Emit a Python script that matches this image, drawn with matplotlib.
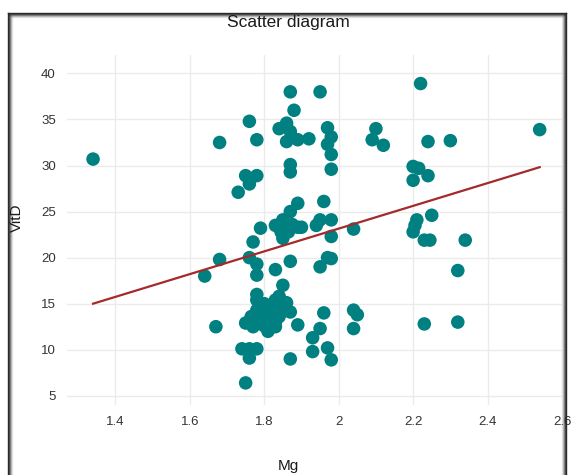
import matplotlib.pyplot as plt
import numpy as np

# Mg vs VitD
mg = [1.34, 1.76, 1.68, 1.78, 1.75, 1.76, 1.78, 1.73, 1.68, 1.64,
      1.67, 1.75, 1.76, 1.74, 1.78, 1.76, 1.75, 1.78, 1.77, 1.76,
      1.78, 1.78, 1.87, 1.95, 1.88, 1.84, 1.86, 1.87, 1.86, 1.89,
      1.92, 1.97, 1.98, 1.97, 1.98, 1.98, 1.87, 1.87, 2.10, 2.09,
      2.12, 2.22, 2.24, 2.30, 2.20, 2.215, 2.20, 2.24, 2.25, 2.21,
      2.205, 2.20, 2.23, 2.245, 2.34, 2.32, 2.23, 2.32, 2.54, 2.04,
      2.04, 2.05, 2.04, 1.98, 1.98, 1.98, 1.96, 1.89, 1.96, 1.87,
      1.83, 1.85, 1.845, 1.86, 1.875, 1.89, 1.90, 1.85, 1.865, 1.79,
      1.94, 1.95, 1.83, 1.87, 1.97, 1.95, 1.85, 1.78, 1.80, 1.78,
      1.765, 1.77, 1.79, 1.81, 1.81, 1.83, 1.84, 1.845, 1.855, 1.87,
      1.83, 1.83, 1.81, 1.89, 1.95, 1.93, 1.93, 1.97, 1.98, 1.87,
      1.80, 1.82, 1.86, 1.84]
vitd = [30.7, 34.8, 32.5, 32.8, 28.9, 28.0, 28.9, 27.1, 19.8, 18.0,
        12.5, 6.4, 10.1, 10.1, 10.1, 9.1, 12.9, 15.4, 21.7, 20.0,
        19.3, 18.1, 38.0, 38.0, 36.0, 34.0, 34.6, 33.7, 32.6, 32.8,
        32.9, 34.1, 33.1, 32.3, 31.2, 29.6, 30.1, 29.3, 34.0, 32.8,
        32.2, 38.9, 32.6, 32.7, 29.9, 29.7, 28.4, 28.9, 24.6, 24.1,
        23.5, 22.8, 21.9, 21.9, 21.9, 18.6, 12.8, 13.0, 33.9, 23.1,
        14.3, 13.8, 12.3, 24.1, 22.3, 19.9, 14.0, 25.9, 26.1, 25.0,
        23.5, 24.1, 22.8, 23.4, 23.6, 23.3, 23.3, 22.1, 22.8, 23.2,
        23.5, 24.1, 18.7, 19.6, 20.0, 19.0, 17.0, 16.0, 15.0, 14.3,
        13.6, 12.5, 13.4, 14.1, 13.4, 15.4, 15.8, 14.7, 14.3, 14.1,
        13.0, 12.5, 12.0, 12.7, 12.3, 11.3, 9.8, 10.2, 8.9, 9.0,
        12.6, 14.8, 15.1, 13.6]

# fitted line
fit_slope = 12.35
fit_intercept = -1.55

xticks = [1.4, 1.6, 1.8, 2.0, 2.2, 2.4, 2.6]
xtick_labels = ['1.4', '1.6', '1.8', '2', '2.2', '2.4', '2.6']
yticks = [5, 10, 15, 20, 25, 30, 35, 40]

plt.rcParams['font.family'] = ['Liberation Sans', 'DejaVu Sans']

fig = plt.figure(figsize=(5.72, 4.75), dpi=100)
ax = fig.add_axes([67 / 572, 70 / 475, (562 - 67) / 572, (405 - 55) / 475])

ax.scatter(mg, vitd, s=95, color='#008080', edgecolors='none', zorder=3)

xs = np.array([min(mg), max(mg)])
ax.plot(xs, fit_intercept + fit_slope * xs, color='#a52a2a', linewidth=1.6, zorder=4)

ax.set_xlim(1.27, 2.6)
ax.set_ylim(4, 42)
ax.set_xticks(xticks)
ax.set_xticklabels(xtick_labels)
ax.set_yticks(yticks)
ax.grid(True, color='#ebebeb', linewidth=1)
ax.set_axisbelow(True)
for s in ax.spines.values():
    s.set_visible(False)
ax.tick_params(length=0, labelsize=9.5, labelcolor='#333333', pad=8)

fig.text(288 / 572, 1 - 22 / 475, 'Scatter diagram', ha='center', va='center',
         fontsize=12.5, color='#1a1a1a')
fig.text(288 / 572, 1 - 466 / 475, 'Mg', ha='center', va='center',
         fontsize=11, color='#1a1a1a')
fig.text(17 / 572, 1 - 218 / 475, 'VitD', ha='center', va='center',
         rotation=90, fontsize=11, color='#1a1a1a')

# screenshot frame with a soft shadow on left, top and right
for i, a in enumerate([1.0, 0.8, 0.5, 0.25, 0.1]):
    off = i
    fig.add_artist(plt.Line2D([(8 + off) / 572] * 2, [0, 1 - (13 + off) / 475],
                              transform=fig.transFigure, color='#2a2a2a', alpha=a, lw=1))
    fig.add_artist(plt.Line2D([(8 + off) / 572, (566 - off) / 572], [1 - (13 + off) / 475] * 2,
                              transform=fig.transFigure, color='#2a2a2a', alpha=a, lw=1))
    fig.add_artist(plt.Line2D([(566 - off) / 572] * 2, [0, 1 - (13 + off) / 475],
                              transform=fig.transFigure, color='#2a2a2a', alpha=a, lw=1))

fig.savefig('out.png', dpi=100)
